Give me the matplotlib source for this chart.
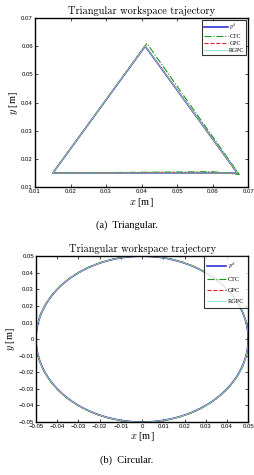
import numpy as np
import matplotlib

matplotlib.use("Agg")
from matplotlib import pyplot as plt

plt.rcParams["mathtext.fontset"] = "cm"
plt.rcParams["axes.unicode_minus"] = True

SERIES = ("$p^d$", "CTC", "GPC", "RGPC")
STYLES = {
    "$p^d$": dict(color="#1f1fd0", linestyle="-", linewidth=1.1),
    "CTC": dict(color="#1a9a1a", linestyle="-.", linewidth=0.8),
    "GPC": dict(color="#e02020", linestyle="--", linewidth=0.8),
    "RGPC": dict(color="#7fe0d8", linestyle="-", linewidth=0.6),
}

# triangular trajectory corners (x, y) per series
tri_ref_x = [0.015, 0.041, 0.067, 0.015]
tri_ref_y = [0.015, 0.060, 0.015, 0.015]
tri_ctc_x = [0.015, 0.0415, 0.0675, 0.060, 0.015]
tri_ctc_y = [0.015, 0.0610, 0.0145, 0.0155, 0.015]
tri_gpc_x = [0.015, 0.041, 0.0670, 0.050, 0.015]
tri_gpc_y = [0.015, 0.0602, 0.0148, 0.0151, 0.015]
tri_rgpc_x = [0.015, 0.041, 0.067, 0.015]
tri_rgpc_y = [0.015, 0.0601, 0.015, 0.015]

# circular trajectory: centre and radius
circ_center = (0.0, 0.0)
circ_radius = 0.05
circ_offsets = {"$p^d$": 0.0, "CTC": 0.0002, "GPC": 0.0001, "RGPC": 0.00005}

tri_ticks_x = [0.01, 0.02, 0.03, 0.04, 0.05, 0.06, 0.07]
tri_ticks_y = [0.01, 0.02, 0.03, 0.04, 0.05, 0.06, 0.07]
circ_ticks = [-0.05, -0.04, -0.03, -0.02, -0.01, 0, 0.01, 0.02, 0.03, 0.04, 0.05]

TITLE = "Triangular workspace trajectory"
TICK_FONT = dict(family="Liberation Sans", size=4.3)
SERIF = "Liberation Serif"


def style_axes(axis, xticks, yticks):
    axis.set_xticks(xticks)
    axis.set_yticks(yticks)
    axis.set_xticklabels([f"{t:g}".replace("-", "\u2212") for t in xticks], **TICK_FONT)
    axis.set_yticklabels([f"{t:g}".replace("-", "\u2212") for t in yticks], **TICK_FONT)
    axis.tick_params(direction="in", length=2, width=0.5, top=True, right=True, pad=1.5)
    for spine in axis.spines.values():
        spine.set_linewidth(1.0)
    axis.set_xlabel("$x$ [m]", family=SERIF, fontsize=7.5, labelpad=1)
    axis.set_ylabel("$y$ [m]", family=SERIF, fontsize=7.5, labelpad=1)
    axis.set_title(TITLE, family="cmr10", fontsize=7.5, pad=3)


figure = plt.figure(figsize=(2.54, 4.75), dpi=100)

top = figure.add_axes([0.138, 0.606, 0.839, 0.356])
tri_data = {
    "$p^d$": (tri_ref_x, tri_ref_y),
    "CTC": (tri_ctc_x, tri_ctc_y),
    "GPC": (tri_gpc_x, tri_gpc_y),
    "RGPC": (tri_rgpc_x, tri_rgpc_y),
}
for name in SERIES:
    xs, ys = tri_data[name]
    top.plot(xs, ys, label=name, **STYLES[name])
top.set_xlim(0.01, 0.07)
top.set_ylim(0.01, 0.07)
style_axes(top, tri_ticks_x, tri_ticks_y)
leg = top.legend(loc="upper right", handlelength=4.0, borderpad=0.3,
                 labelspacing=0.3, handletextpad=0.3, fancybox=False,
                 borderaxespad=0.3, prop={"family": SERIF, "size": 4.2})
leg.get_frame().set_edgecolor("black")
leg.get_frame().set_linewidth(0.8)

bottom = figure.add_axes([0.142, 0.1116, 0.835, 0.349])
angles = np.linspace(0, 2 * np.pi, 400)
for name in SERIES:
    r = circ_radius + circ_offsets[name]
    bottom.plot(circ_center[0] + r * np.cos(angles), circ_center[1] + r * np.sin(angles),
                label=name, **STYLES[name])
bottom.set_xlim(-0.05, 0.05)
bottom.set_ylim(-0.05, 0.05)
style_axes(bottom, circ_ticks, circ_ticks)
leg = bottom.legend(loc="upper right", handlelength=3.0, borderpad=0.6,
                    labelspacing=0.9, handletextpad=0.3, fancybox=False,
                    borderaxespad=0.0, prop={"family": SERIF, "size": 4.5})
leg.get_frame().set_edgecolor("black")
leg.get_frame().set_linewidth(0.8)

figure.text(0.5, 1 - 225 / 475, "(a)  Triangular.", ha="center", va="center",
            family=SERIF, fontsize=7.5)
figure.text(0.5, 1 - 460 / 475, "(b)  Circular.", ha="center", va="center",
            family=SERIF, fontsize=7.5)

figure.savefig("out.png", dpi=100)
plt.close(figure)
